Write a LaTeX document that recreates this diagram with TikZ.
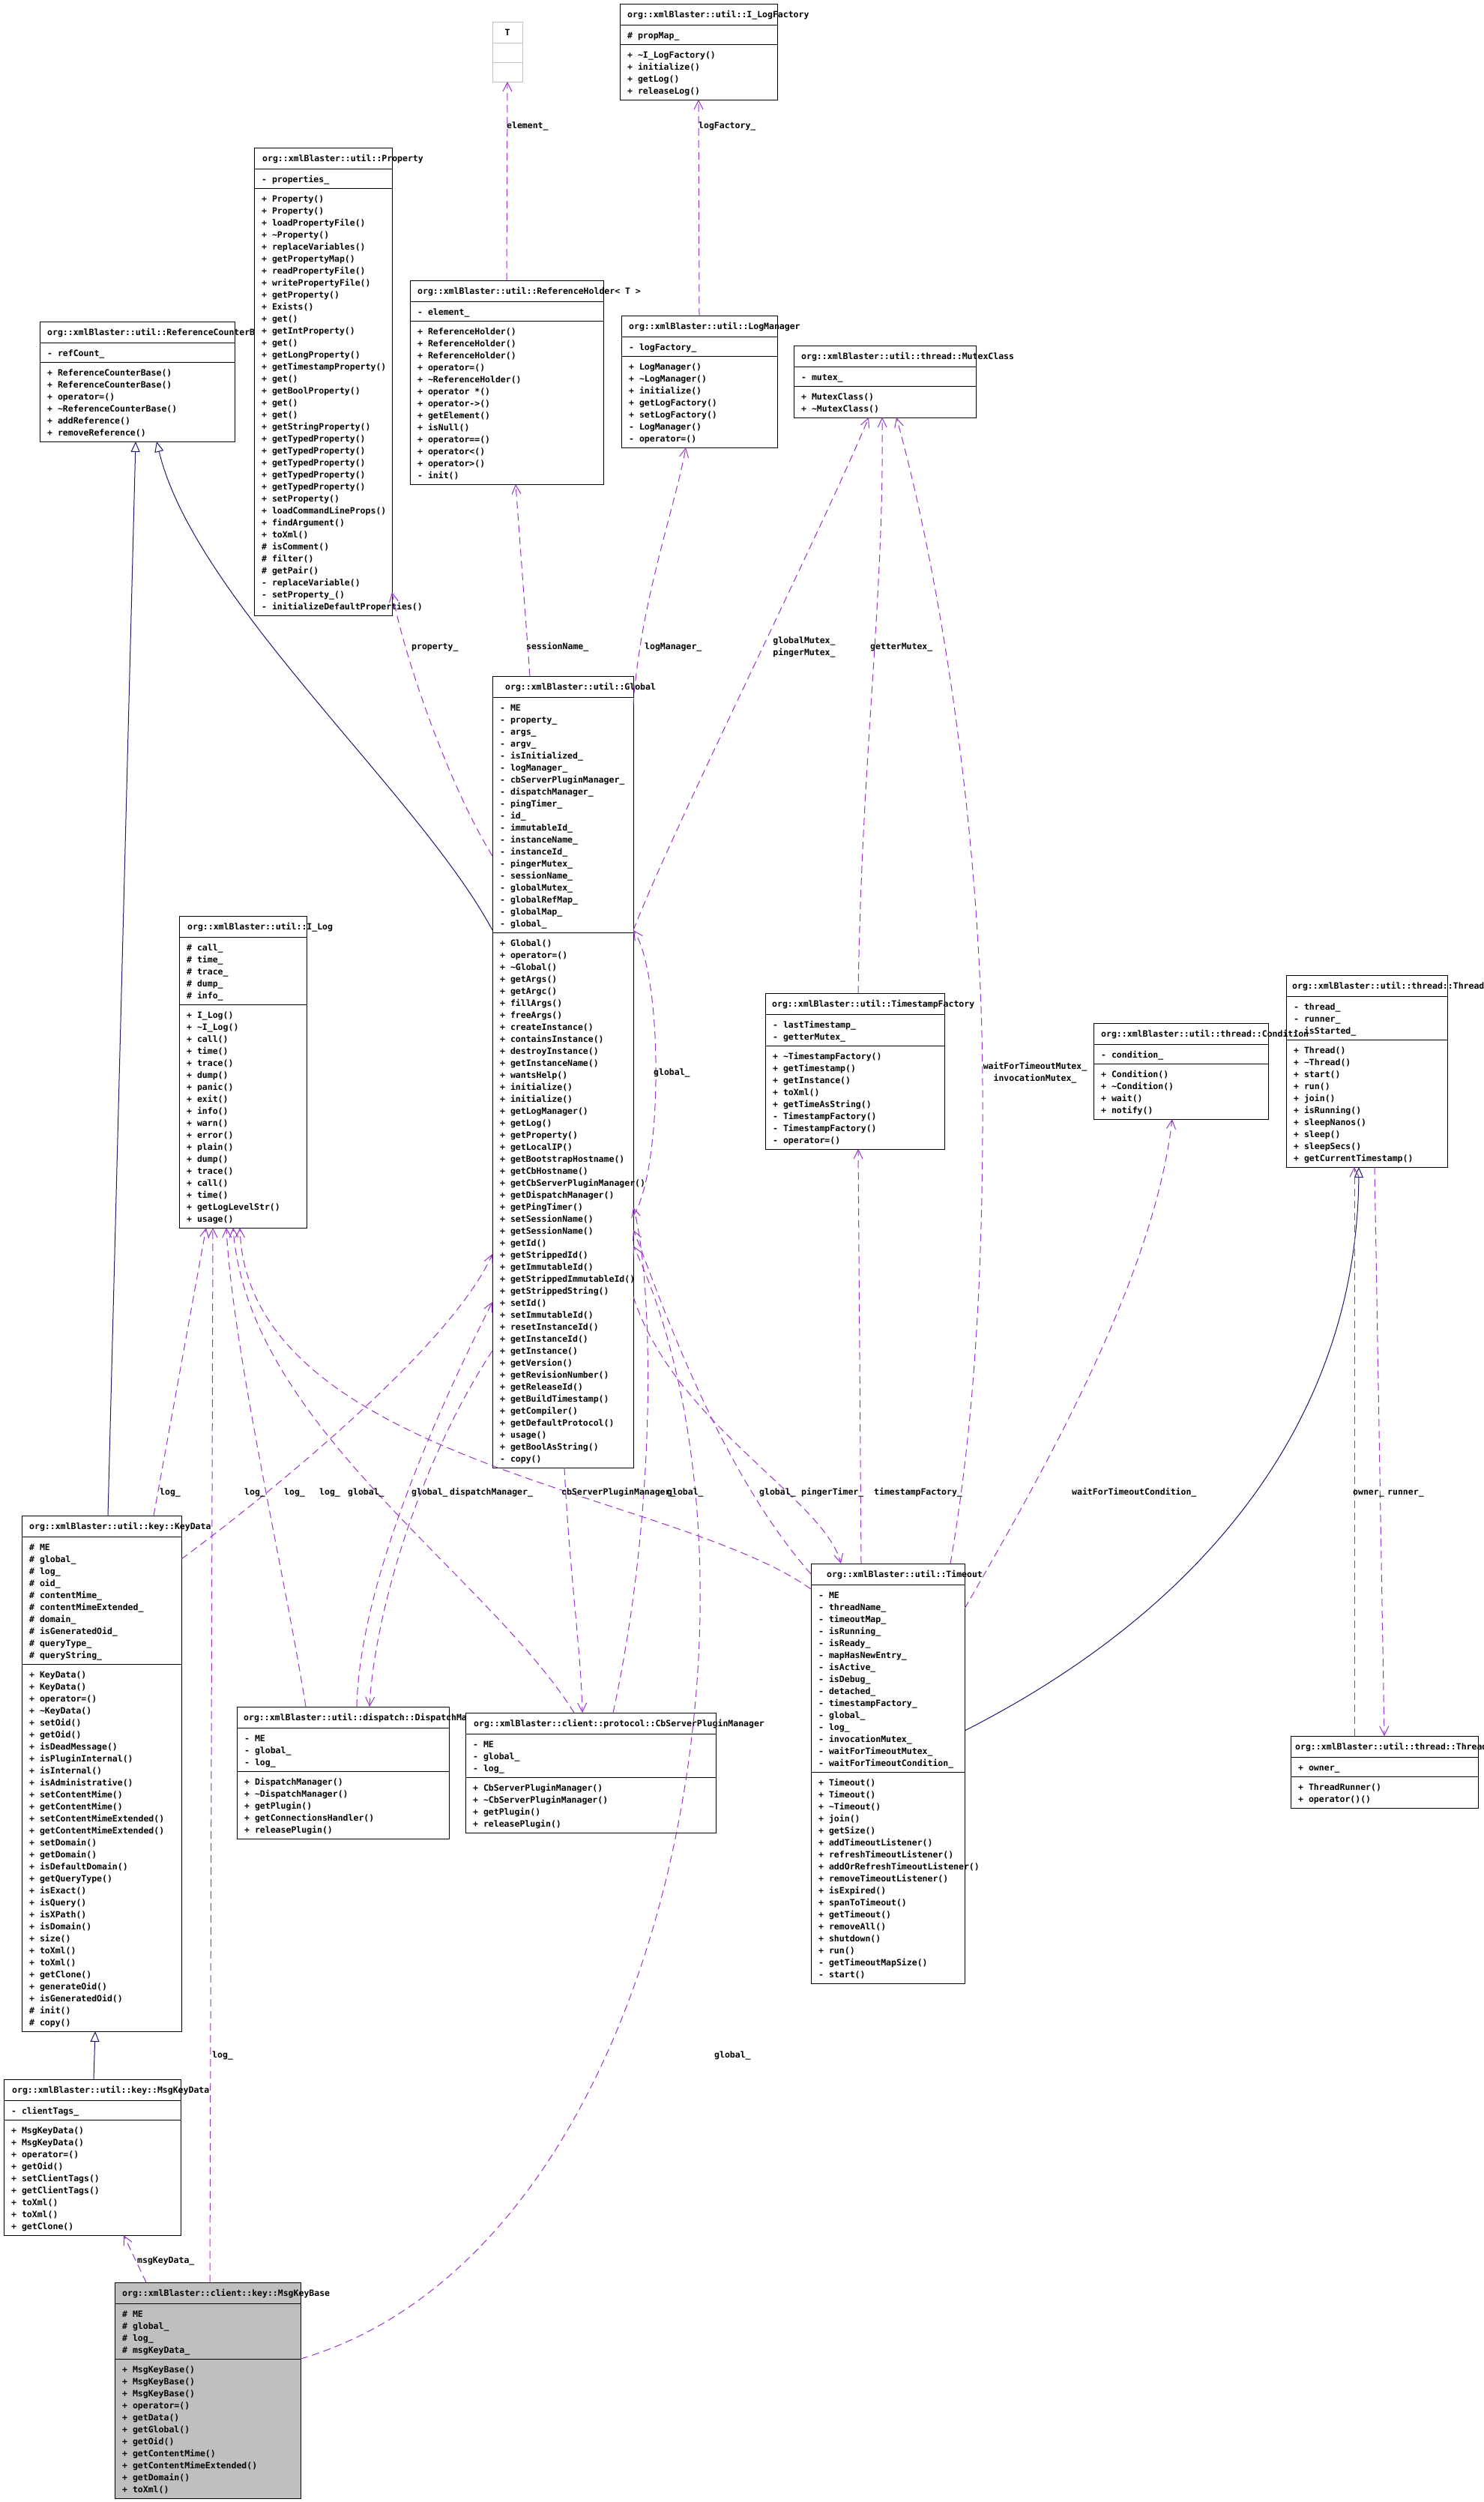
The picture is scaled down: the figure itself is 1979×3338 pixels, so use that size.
\documentclass[tikz,border=0pt]{standalone}
\usepackage{fontspec}
\newfontfamily\umlfont{DejaVu Sans Mono}
\usetikzlibrary{arrows.meta, calc}
\definecolor{edgepurple}{HTML}{9A32CD}
\definecolor{inhblue}{HTML}{191970}
\definecolor{greybox}{HTML}{BFBFBF}
\newcommand\umltext{\umlfont\bfseries\fontsize{11.5}{16}\selectfont}
\newcounter{nattr}
\newcounter{nmeth}
\tikzset{tshift/.code={\gdef\ttlshift{#1}}}
% class box: [style]{name}{x}{y}{width}{title}{attributes}{operations}
\newcommand\umlclass[8][]{%
  \setcounter{nattr}{0}\setcounter{nmeth}{0}%
  \gdef\ttlshift{10}%
  \foreach \m in {#7} {\stepcounter{nattr}}%
  \foreach \m in {#8} {\stepcounter{nmeth}}%
  \pgfmathsetmacro\hattr{16*\thenattr+10}%
  \pgfmathsetmacro\hmeth{16*\thenmeth+10}%
  \pgfmathsetmacro\htot{28+\hattr+\hmeth}%
  \node[classbox, #1, minimum width=#5pt, minimum height=\htot pt] (#2) at (#3,#4) {};
  \draw[boxline] ([yshift=-28pt]#2.north west) -- ([yshift=-28pt]#2.north east);
  \draw[boxline] ([yshift={-(28+\hattr)*1pt}]#2.north west) -- ([yshift={-(28+\hattr)*1pt}]#2.north east);
  \node[member] (#2-t) at ([xshift=\ttlshift pt, yshift=-18pt]#2.north west) {#6};
  \foreach \m [count=\i from 0] in {#7}
    \node[member] (#2-a\i) at ([xshift=10pt, yshift={-(46+16*\i)*1pt}]#2.north west) {\m};
  \foreach \m [count=\i from 0] in {#8}
    \node[member] (#2-o\i) at ([xshift=10pt, yshift={-(46+\hattr+16*\i)*1pt}]#2.north west) {\m};
}

\begin{document}
\begin{tikzpicture}[x=1pt, y=-1pt,
    classbox/.style={draw=black, fill=white, line width=1pt, inner sep=0pt, outer sep=0pt, anchor=north west},
    boxline/.style={draw=black, line width=1pt},
    member/.style={font=\umltext, inner sep=0pt, anchor=base west},
    lbl/.style={font=\umltext, inner sep=0pt, anchor=base west},
    usage/.style={draw=edgepurple, line width=1pt, dash pattern=on 10pt off 6pt,
      -{Straight Barb[length=12pt, width=12pt]}},
    inherit/.style={draw=inhblue, line width=1pt, -{Triangle[open, length=14pt, width=12pt, fill=white]}}]
  \path[fill=white, use as bounding box] (0,0) rectangle (1979,3338);

  % template parameter
  \node[classbox, draw=greybox, minimum width=40pt, minimum height=80pt] (tparam) at (657,29) {};
  \draw[boxline, draw=greybox] ([yshift=-28pt]tparam.north west) -- ([yshift=-28pt]tparam.north east);
  \draw[boxline, draw=greybox] ([yshift=-54pt]tparam.north west) -- ([yshift=-54pt]tparam.north east);
  \node[member, anchor=base] (tparam-t) at ([yshift=-18pt]tparam.north) {T};

  \umlclass{ilogfac}{827}{5}{210}{org::xmlBlaster::util::I\_LogFactory}
    {\# propMap\_}
    {+ \textasciitilde{}I\_LogFactory(), + initialize(), + getLog(), + releaseLog()}
  \umlclass{rcb}{53}{429}{260}{org::xmlBlaster::util::ReferenceCounterBase}
    {- refCount\_}
    {+ ReferenceCounterBase(), + ReferenceCounterBase(), + operator=(),
     + \textasciitilde{}ReferenceCounterBase(), + addReference(), + removeReference()}
  \umlclass[tshift=11]{prop}{339}{197}{184}{org::xmlBlaster::util::Property}
    {- properties\_}
    {+ Property(), + Property(), + loadPropertyFile(), + \textasciitilde{}Property(),
     + replaceVariables(), + getPropertyMap(), + readPropertyFile(), + writePropertyFile(),
     + getProperty(), + Exists(), + get(), + getIntProperty(), + get(), + getLongProperty(),
     + getTimestampProperty(), + get(), + getBoolProperty(), + get(), + get(),
     + getStringProperty(), + getTypedProperty(), + getTypedProperty(), + getTypedProperty(),
     + getTypedProperty(), + getTypedProperty(), + setProperty(), + loadCommandLineProps(),
     + findArgument(), + toXml(), \# isComment(), \# filter(), \# getPair(),
     - replaceVariable(), - setProperty\_(), - initializeDefaultProperties()}
  \umlclass{refholder}{547}{374}{258}{org::xmlBlaster::util::ReferenceHolder< T >}
    {- element\_}
    {+ ReferenceHolder(), + ReferenceHolder(), + ReferenceHolder(), + operator=(),
     + \textasciitilde{}ReferenceHolder(), + operator *(), + operator->(), + getElement(),
     + isNull(), + operator==(), + operator<(), + operator>(), - init()}
  \umlclass{logmgr}{829}{421}{208}{org::xmlBlaster::util::LogManager}
    {- logFactory\_}
    {+ LogManager(), + \textasciitilde{}LogManager(), + initialize(), + getLogFactory(),
     + setLogFactory(), - LogManager(), - operator=()}
  \umlclass{mutex}{1059}{461}{243}{org::xmlBlaster::util::thread::MutexClass}
    {- mutex\_}
    {+ MutexClass(), + \textasciitilde{}MutexClass()}
  \umlclass[tshift=17]{global}{657}{902}{188}{org::xmlBlaster::util::Global}
    {- ME, - property\_, - args\_, - argv\_, - isInitialized\_, - logManager\_,
     - cbServerPluginManager\_, - dispatchManager\_, - pingTimer\_, - id\_, - immutableId\_,
     - instanceName\_, - instanceId\_, - pingerMutex\_, - sessionName\_, - globalMutex\_,
     - globalRefMap\_, - globalMap\_, - global\_}
    {+ Global(), + operator=(), + \textasciitilde{}Global(), + getArgs(), + getArgc(),
     + fillArgs(), + freeArgs(), + createInstance(), + containsInstance(),
     + destroyInstance(), + getInstanceName(), + wantsHelp(), + initialize(),
     + initialize(), + getLogManager(), + getLog(), + getProperty(), + getLocalIP(),
     + getBootstrapHostname(), + getCbHostname(), + getCbServerPluginManager(),
     + getDispatchManager(), + getPingTimer(), + setSessionName(), + getSessionName(),
     + getId(), + getStrippedId(), + getImmutableId(), + getStrippedImmutableId(),
     + getStrippedString(), + setId(), + setImmutableId(), + resetInstanceId(),
     + getInstanceId(), + getInstance(), + getVersion(), + getRevisionNumber(),
     + getReleaseId(), + getBuildTimestamp(), + getCompiler(), + getDefaultProtocol(),
     + usage(), + getBoolAsString(), - copy()}
  \umlclass[tshift=11]{ilog}{239}{1222}{170}{org::xmlBlaster::util::I\_Log}
    {\# call\_, \# time\_, \# trace\_, \# dump\_, \# info\_}
    {+ I\_Log(), + \textasciitilde{}I\_Log(), + call(), + time(), + trace(), + dump(),
     + panic(), + exit(), + info(), + warn(), + error(), + plain(), + dump(), + trace(),
     + call(), + time(), + getLogLevelStr(), + usage()}
  \umlclass[tshift=9]{tsfac}{1021}{1325}{239}{org::xmlBlaster::util::TimestampFactory}
    {- lastTimestamp\_, - getterMutex\_}
    {+ \textasciitilde{}TimestampFactory(), + getTimestamp(), + getInstance(), + toXml(),
     + getTimeAsString(), - TimestampFactory(), - TimestampFactory(), - operator=()}
  \umlclass[tshift=8]{thread}{1716}{1301}{215}{org::xmlBlaster::util::thread::Thread}
    {- thread\_, - runner\_, - isStarted\_}
    {+ Thread(), + \textasciitilde{}Thread(), + start(), + run(), + join(), + isRunning(),
     + sleepNanos(), + sleep(), + sleepSecs(), + getCurrentTimestamp()}
  \umlclass{cond}{1459}{1365}{233}{org::xmlBlaster::util::thread::Condition}
    {- condition\_}
    {+ Condition(), + \textasciitilde{}Condition(), + wait(), + notify()}
  \umlclass{keydata}{29}{2022}{213}{org::xmlBlaster::util::key::KeyData}
    {\# ME, \# global\_, \# log\_, \# oid\_, \# contentMime\_, \# contentMimeExtended\_,
     \# domain\_, \# isGeneratedOid\_, \# queryType\_, \# queryString\_}
    {+ KeyData(), + KeyData(), + operator=(), + \textasciitilde{}KeyData(), + setOid(),
     + getOid(), + isDeadMessage(), + isPluginInternal(), + isInternal(),
     + isAdministrative(), + setContentMime(), + getContentMime(),
     + setContentMimeExtended(), + getContentMimeExtended(), + setDomain(), + getDomain(),
     + isDefaultDomain(), + getQueryType(), + isExact(), + isQuery(), + isXPath(),
     + isDomain(), + size(), + toXml(), + toXml(), + getClone(), + generateOid(),
     + isGeneratedOid(), \# init(), \# copy()}
  \umlclass[tshift=9]{dispmgr}{316}{2277}{283}{org::xmlBlaster::util::dispatch::DispatchManager}
    {- ME, - global\_, - log\_}
    {+ DispatchManager(), + \textasciitilde{}DispatchManager(), + getPlugin(),
     + getConnectionsHandler(), + releasePlugin()}
  \umlclass[tshift=11]{cbspm}{621}{2285}{334}{org::xmlBlaster::client::protocol::CbServerPluginManager}
    {- ME, - global\_, - log\_}
    {+ CbServerPluginManager(), + \textasciitilde{}CbServerPluginManager(), + getPlugin(),
     + releasePlugin()}
  \umlclass[tshift=21]{timeout}{1082}{2086}{205}{org::xmlBlaster::util::Timeout}
    {- ME, - threadName\_, - timeoutMap\_, - isRunning\_, - isReady\_, - mapHasNewEntry\_,
     - isActive\_, - isDebug\_, - detached\_, - timestampFactory\_, - global\_, - log\_,
     - invocationMutex\_, - waitForTimeoutMutex\_, - waitForTimeoutCondition\_}
    {+ Timeout(), + Timeout(), + \textasciitilde{}Timeout(), + join(), + getSize(),
     + addTimeoutListener(), + refreshTimeoutListener(), + addOrRefreshTimeoutListener(),
     + removeTimeoutListener(), + isExpired(), + spanToTimeout(), + getTimeout(),
     + removeAll(), + shutdown(), + run(), - getTimeoutMapSize(), - start()}
  \umlclass[tshift=6]{runner}{1722}{2316}{250}{org::xmlBlaster::util::thread::ThreadRunner}
    {+ owner\_}
    {+ ThreadRunner(), + operator()()}
  \umlclass[tshift=11]{msgkeydata}{5}{2774}{236}{org::xmlBlaster::util::key::MsgKeyData}
    {- clientTags\_}
    {+ MsgKeyData(), + MsgKeyData(), + operator=(), + getOid(), + setClientTags(),
     + getClientTags(), + toXml(), + toXml(), + getClone()}
  \umlclass[fill=greybox]{msgkeybase}{153}{3045}{248}{org::xmlBlaster::client::key::MsgKeyBase}
    {\# ME, \# global\_, \# log\_, \# msgKeyData\_}
    {+ MsgKeyBase(), + MsgKeyBase(), + MsgKeyBase(), + operator=(), + getData(),
     + getGlobal(), + getOid(), + getContentMime(), + getContentMimeExtended(),
     + getDomain(), + toXml()}

  % inheritance
  \draw[inherit] ([xshift=115pt]keydata.north west) -- ([xshift=128pt]rcb.south west);
  \draw[inherit] ([yshift=-339pt]global.north west) .. controls (560,1060) and (260,800) .. ([xshift=156pt]rcb.south west);
  \draw[inherit] ([xshift=120pt]msgkeydata.north west) -- ([xshift=98pt]keydata.south west);
  \draw[inherit] ([yshift=-223pt]timeout.north east) .. controls (1600,2150) and (1810,1900) .. ([xshift=97pt]thread.south west);

  % usage
  \draw[usage] (refholder.north) -- (tparam.south);
  \draw[usage] (logmgr.north) -- (ilogfac.south);
  \draw[usage] ([yshift=-240pt]global.north west) .. controls (600,1050) and (540,880) .. ([yshift=31pt]prop.south east);
  \draw[usage] ([xshift=50pt]global.north west) -- ([xshift=141pt]refholder.south west);
  \draw[usage] ([yshift=-38pt]global.north east) .. controls (855,800) and (900,680) .. ([xshift=86pt]logmgr.south west);
  \draw[usage] ([yshift=-339pt]global.north east) .. controls (900,1100) and (1100,700) .. ([xshift=100pt]mutex.south west);
  \draw[usage] ([yshift=-720pt]global.north east) .. controls (885,1560) and (885,1300) .. ([yshift=-339pt]global.north east);
  \draw[usage] ([xshift=124pt]tsfac.north west) .. controls (1150,1000) and (1180,800) .. ([xshift=118pt]mutex.south west);
  \draw[usage] ([xshift=186pt]timeout.north west) .. controls (1300,1900) and (1312,1700) .. (1311,1450)
    .. controls (1310,1100) and (1250,750) .. ([xshift=137pt]mutex.south west);
  \draw[usage] ([xshift=67pt]timeout.north west) -- ([xshift=124pt]tsfac.south west);
  \draw[usage] ([yshift=-60pt]timeout.north east) .. controls (1400,1950) and (1540,1700) .. ([xshift=105pt]cond.south west);
  \draw[usage] ([xshift=85pt]runner.north west) -- ([xshift=91pt]thread.south west);
  \draw[usage] ([xshift=118pt]thread.south west) -- ([xshift=125pt]runner.north west);
  \draw[usage] ([yshift=-828pt]global.north east) .. controls (900,1900) and (1100,2000) .. ([xshift=40pt]timeout.north west);
  \draw[usage] ([xshift=96pt]global.south west) .. controls (760,2100) and (775,2200) .. ([xshift=156pt]cbspm.north west);
  \draw[usage] ([xshift=197pt]cbspm.north west) .. controls (880,2000) and (870,1700) .. ([yshift=-709pt]global.north east);
  \draw[usage] ([yshift=-14pt]timeout.north west) .. controls (950,1950) and (870,1700) .. ([yshift=-739pt]global.north east);
  \draw[usage] ([yshift=-102pt]msgkeybase.north east) .. controls (900,3000) and (1050,2100) .. ([yshift=-760pt]global.north east);
  \draw[usage] ([yshift=-900pt]global.north west) .. controls (560,1950) and (500,2150) .. ([xshift=177pt]dispmgr.north west);
  \draw[usage] ([xshift=160pt]dispmgr.north west) .. controls (480,2100) and (600,1850) .. ([yshift=-835pt]global.north west);
  \draw[usage] ([yshift=-58pt]keydata.north east) .. controls (350,2000) and (600,1800) .. ([yshift=-771pt]global.north west);
  \draw[usage] ([xshift=176pt]keydata.north west) -- ([xshift=36pt]ilog.south west);
  \draw[usage] ([xshift=92pt]dispmgr.north west) .. controls (380,2100) and (310,1800) .. ([xshift=63pt]ilog.south west);
  \draw[usage] ([xshift=145pt]cbspm.north west) .. controls (650,2100) and (330,1900) .. ([xshift=72pt]ilog.south west);
  \draw[usage] ([yshift=-34pt]timeout.north west) .. controls (900,1990) and (330,1950) .. ([xshift=81pt]ilog.south west);
  \draw[usage] ([xshift=127pt]msgkeybase.north west) -- ([xshift=45pt]ilog.south west);
  \draw[usage] ([xshift=42pt]msgkeybase.north west) -- ([xshift=160pt]msgkeydata.south west);

  % edge labels
  \node[lbl] (l-element) at (676,171) {element\_};
  \node[lbl] (l-logfac) at (932,171) {logFactory\_};
  \node[lbl] (l-prop) at (549,866) {property\_};
  \node[lbl] (l-sess) at (702,866) {sessionName\_};
  \node[lbl] (l-logmgr) at (860,866) {logManager\_};
  \node[lbl, align=center, anchor=center] (l-gmutex) at (1073,863) {globalMutex\_\\pingerMutex\_};
  \node[lbl] (l-getter) at (1161,866) {getterMutex\_};
  \node[lbl, align=center, anchor=center] (l-wmutex) at (1381,1431) {waitForTimeoutMutex\_\\invocationMutex\_};
  \node[lbl] (l-self) at (872,1434) {global\_};
  \node[lbl] (l-log1) at (213,1994) {log\_};
  \node[lbl] (l-log2) at (326,1994) {log\_};
  \node[lbl] (l-log3) at (379,1994) {log\_};
  \node[lbl] (l-log4) at (426,1994) {log\_};
  \node[lbl] (l-glob1) at (464,1994) {global\_};
  \node[lbl] (l-glob2) at (549,1994) {global\_};
  \node[lbl] (l-disp) at (600,1994) {dispatchManager\_};
  \node[lbl] (l-cbspm) at (749,1994) {cbServerPluginManager\_};
  \node[lbl] (l-glob3) at (890,1994) {global\_};
  \node[lbl] (l-glob4) at (1013,1994) {global\_};
  \node[lbl] (l-ping) at (1069,1994) {pingerTimer\_};
  \node[lbl] (l-tsfac) at (1166,1994) {timestampFactory\_};
  \node[lbl] (l-cond) at (1430,1994) {waitForTimeoutCondition\_};
  \node[lbl] (l-owner) at (1805,1994) {owner\_};
  \node[lbl] (l-runner) at (1851,1994) {runner\_};
  \node[lbl] (l-log5) at (283,2745) {log\_};
  \node[lbl] (l-glob5) at (953,2745) {global\_};
  \node[lbl] (l-mkd) at (183,3019) {msgKeyData\_};
\end{tikzpicture}
\end{document}
